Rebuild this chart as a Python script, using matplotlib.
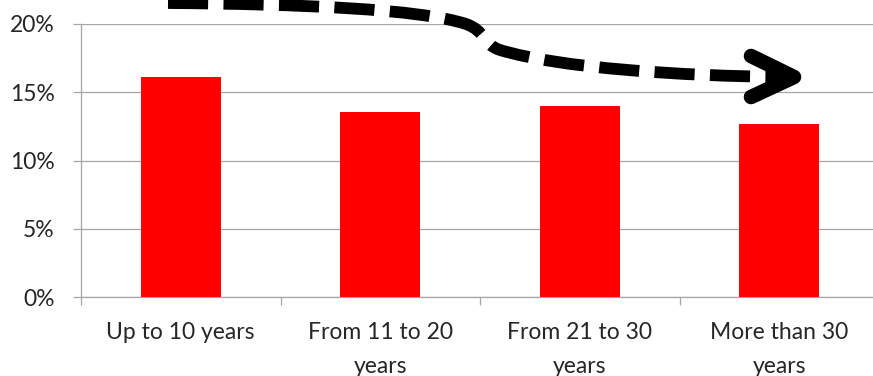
import matplotlib.pyplot as plt
from matplotlib.path import Path
from matplotlib.patches import PathPatch
from matplotlib.ticker import FuncFormatter, FixedLocator

# -----------------------------
# Data
# -----------------------------
categories = ["Up to 10 years", "From 11 to 20\nyears", "From 21 to 30\nyears", "More than 30\nyears"]
shares = [16.1, 13.55, 14.0, 12.65]
y_ticks = [0, 5, 10, 15, 20]

W, H = 873, 376
fig = plt.figure(figsize=(W / 100, H / 100), dpi=100)
plt.rcParams['font.family'] = ['Lato', 'DejaVu Sans']

# axes spans x 81..879 px, y 24..297 px (from top)
ax = fig.add_axes([81 / W, (H - 297) / H, 798 / W, 273 / H])

x = list(range(len(categories)))
ax.bar(x, shares, width=0.4, color='#ff0000', zorder=3)

ax.set_xlim(-0.5, len(categories) - 0.5)
ax.set_ylim(0, 20)
ax.set_yticks(y_ticks)
ax.yaxis.set_major_formatter(FuncFormatter(lambda v, p: f"{v:.0f}%"))
ax.yaxis.grid(True, color='#a6a6a6', lw=0.9, zorder=0)

ax.set_xticks(x)
ax.set_xticklabels(categories, linespacing=1.75)
ax.xaxis.set_minor_locator(FixedLocator([i + 0.5 for i in x[:-1]] + [-0.5]))
ax.tick_params(axis='x', which='major', length=0, pad=18, labelsize=16.5, colors='#262626')
ax.tick_params(axis='x', which='minor', length=6, width=0.9, color='#a6a6a6')
ax.tick_params(axis='y', length=6, width=0.9, color='#a6a6a6', pad=13, labelsize=16.5, labelcolor='#262626')

for s in ['top', 'right']:
    ax.spines[s].set_visible(False)
for s in ['left', 'bottom']:
    ax.spines[s].set_color('#a6a6a6')
    ax.spines[s].set_linewidth(0.9)

# -----------------------------
# Dashed trend arrow (figure pixel coords, y from top)
# -----------------------------
def px(p):
    return (p[0] / W, 1 - p[1] / H)

arrow_pts = [(168, 3), (300, 4), (420, 9), (466, 24),
             (486, 31), (482, 44), (500, 50),
             (560, 68), (680, 76), (785, 77)]
codes = [Path.MOVETO] + [Path.CURVE4] * 9
path = Path([px(p) for p in arrow_pts], codes)
fig.patches.append(PathPatch(path, transform=fig.transFigure, fill=False,
                             lw=8.5, color='black', linestyle=(0, (3.4, 1.3)),
                             capstyle='butt'))

head = [(751, 56), (794, 77), (751, 97)]
hx = [px(p)[0] for p in head]
hy = [px(p)[1] for p in head]
fig.lines.append(plt.Line2D(hx, hy, transform=fig.transFigure, color='black',
                            lw=10.5, solid_capstyle='round', solid_joinstyle='round'))

fig.savefig("out.png", dpi=100)
